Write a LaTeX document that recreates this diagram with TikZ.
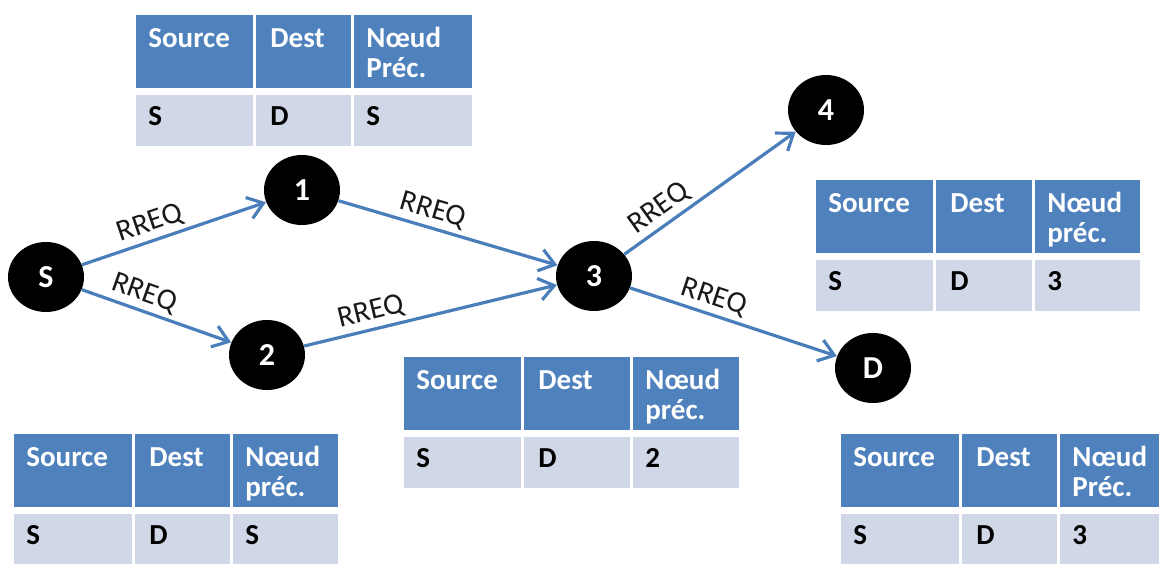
\documentclass[tikz,border=0pt]{standalone}
\usepackage{fontspec}
\setmainfont{Carlito}
\usetikzlibrary{arrows.meta,shapes.geometric}
\definecolor{hdrblue}{HTML}{4F81BD}
\definecolor{rowgray}{HTML}{D0D8E8}
\definecolor{linkblue}{HTML}{4A7EBB}
\tikzset{
  station/.style={ellipse,fill=black,minimum width=38pt,minimum height=35pt,inner sep=0pt,
    text=white,font=\fontsize{16}{18}\selectfont\bfseries},
  rreq/.style={draw=linkblue,line width=1.6pt,-{Straight Barb[length=7.5pt,width=11pt]}},
  rlabel/.style={sloped,above=0pt,inner sep=2pt,text=black!90,font=\fontsize{15}{17}\selectfont},
  headcell/.style={fill=hdrblue,draw=white,line width=1.5pt},
  datacell/.style={fill=rowgray,draw=white,line width=1.5pt},
  headtxt/.style={anchor=north west,inner sep=0pt,align=left,text=white,
    font=\fontsize{14.5}{15}\selectfont\bfseries},
  datatxt/.style={anchor=north west,inner sep=0pt,text=black,
    font=\fontsize{14.5}{15}\selectfont\bfseries}
}
\newcommand{\rtable}[8]{%
  \path[headcell] (#2,#6) rectangle (#3,#6+76);
  \path[headcell] (#3,#6) rectangle (#4,#6+76);
  \path[headcell] (#4,#6) rectangle (#5,#6+76);
  \path[datacell] (#2,#6+80) rectangle (#3,#6+134);
  \path[datacell] (#3,#6+80) rectangle (#4,#6+134);
  \path[datacell] (#4,#6+80) rectangle (#5,#6+134);
  \node[headtxt] (#1_src) at (#2+14,#6+15) {Source};
  \node[headtxt] (#1_dst) at (#3+16,#6+15) {Dest};
  \node[headtxt] (#1_prec) at (#4+14,#6+14) {Nœud\\#7};
  \node[datatxt] (#1_s) at (#2+14,#6+93) {S};
  \node[datatxt] (#1_d) at (#3+16,#6+93) {D};
  \node[datatxt] (#1_v) at (#4+14,#6+93) {#8};
}
\begin{document}
\begin{tikzpicture}[x=0.5pt,y=-0.5pt]
\useasboundingbox (0,0) rectangle (1159,563);

\rtable{tabA}{134}{254}{352}{473}{13}{Préc.}{S}
\rtable{tabB}{814}{934}{1033}{1141}{178}{préc.}{3}
\rtable{tabC}{402}{522}{631}{740}{355}{préc.}{2}
\rtable{tabD}{12}{133}{231}{339}{432}{préc.}{S}
\rtable{tabE}{839}{960}{1058}{1175}{432}{Préc.}{3}

\node[station] (S) at (46,277) {S};
\node[station] (N1) at ([shift={+(256,-87)}]S) {1};
\node[station] (N2) at ([shift={+(221,78)}]S) {2};
\node[station] (N3) at (594,276) {3};
\node[station] (N4) at ([shift={+(232,-166)}]N3) {4};
\node[station] (D) at ([shift={+(279,92)}]N3) {D};

\draw[rreq] (S)--(N1) node[rlabel,pos=0.40] {RREQ};
\draw[rreq] (S)--(N2) node[rlabel,pos=0.38] {RREQ};
\draw[rreq] (N1)--(N3) node[rlabel,pos=0.41] {RREQ};
\draw[rreq] (N2)--(N3) node[rlabel,pos=0.28] {RREQ};
\draw[rreq] (N3)--(N4) node[rlabel,pos=0.26] {RREQ};
\draw[rreq] (N3)--(D) node[rlabel,pos=0.38] {RREQ};
\end{tikzpicture}
\end{document}
